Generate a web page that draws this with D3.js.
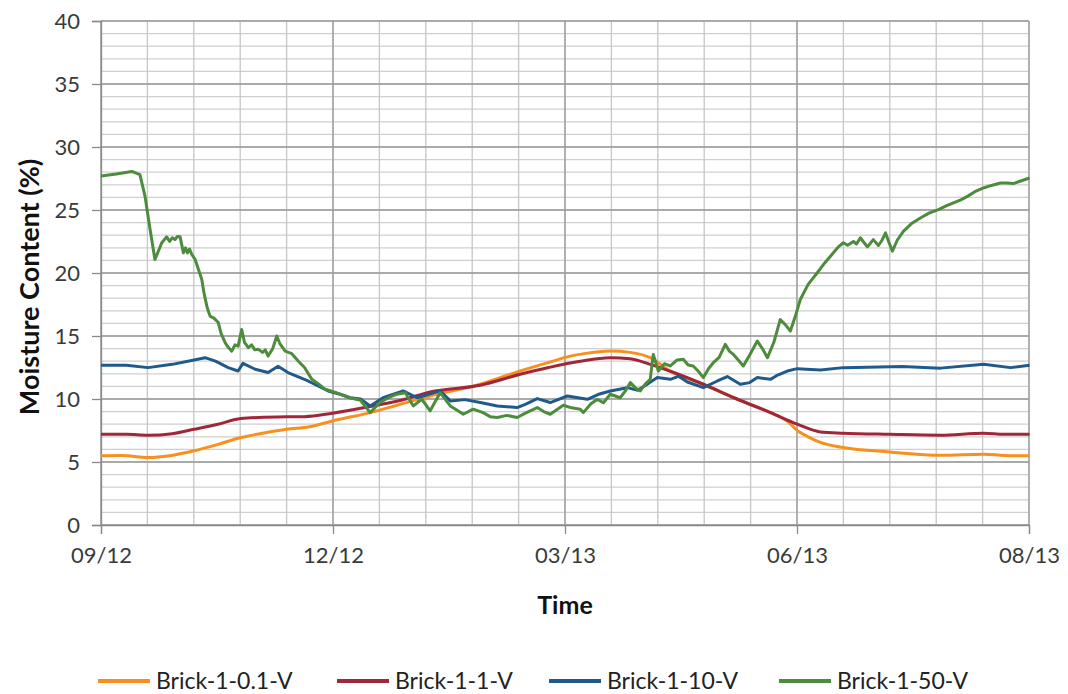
<!DOCTYPE html>
<html>
<head>
<meta charset="utf-8">
<script src="https://cdn.jsdelivr.net/npm/d3@7"></script>
<style>
  body { margin: 0; background: white; }
  text { font-family: Lato, 'Open Sans', sans-serif; fill: #3a3a3a; }
</style>
</head>
<body>
<div id="chart"></div>
<script>
// series names and colours
const seriesNames = ['Brick-1-0.1-V', 'Brick-1-1-V', 'Brick-1-10-V', 'Brick-1-50-V'];
const seriesColors = ['#f7901e', '#a02639', '#1f5a8a', '#4c8c3c'];

// readings as [days since 2012-09-01, moisture %]
const brick01 = [[0,5.5],[8,5.52],[18.5,5.36],[27,5.5],[36.6,5.89],[46,6.4],[55,6.94],[64,7.3],[73,7.6],[82,7.8],
  [91,8.26],[105.8,8.92],[118,9.6],[129.4,10.24],[149,11.17],[164.8,12.22],[176,12.9],[184.5,13.4],[190,13.6],
  [200.2,13.8],[208,13.7],[215.9,13.28],[223.8,12.2],[236.8,11.17],[250.2,9.98],[263.2,8.92],[270,8.2],
  [273.7,7.5],[278,7.0],[282.8,6.55],[291.8,6.15],[310,5.8],[330,5.54],[347,5.62],[355,5.52],[365,5.49]];

const brick1 = [[0,7.2],[10,7.2],[18.5,7.13],[28,7.25],[36.6,7.6],[46,8.0],[55,8.45],[64,8.55],[73,8.6],[80,8.6],
  [91,8.87],[105.8,9.4],[118,9.9],[129.4,10.56],[149,11.09],[164.8,11.96],[176,12.5],[188.4,13.0],[200.2,13.28],
  [208,13.2],[215.9,12.75],[223.8,12.2],[236.8,11.17],[250.2,9.98],[263.2,8.92],[273.7,8.0],[282.8,7.39],
  [291.8,7.29],[310,7.2],[330,7.13],[347,7.29],[355,7.2],[365,7.2]];

const brick10 = [[0,12.67],[10,12.68],[18.5,12.49],[28,12.75],[36.6,13.1],[40.9,13.28],[45,13.0],[50,12.49],
  [53.9,12.22],[55.8,12.83],[60.6,12.36],[65.7,12.1],[69.6,12.6],[73.5,12.1],[81.4,11.43],[89.3,10.64],[94,10.38],
  [97.9,10.1],[102,10.0],[105.8,9.45],[110.9,10.1],[118.8,10.64],[124.3,10.1],[133.3,10.64],[137.3,9.85],
  [143,9.95],[149.1,9.72],[155.8,9.45],[163.6,9.32],[167,9.6],[171.5,10.03],[176.6,9.72],[183.3,10.24],
  [191.2,9.98],[196,10.4],[200.2,10.64],[206.9,10.9],[211,10.7],[214.7,11.17],[218.7,11.7],[223.8,11.56],
  [227,11.8],[230.5,11.35],[236.8,10.9],[242.3,11.43],[246.2,11.78],[251.3,11.17],[255,11.3],[258,11.7],
  [263.2,11.56],[266,11.9],[269.8,12.22],[273.7,12.41],[282.8,12.3],[291.8,12.49],[315,12.57],
  [330,12.45],[347,12.75],[357.5,12.49],[365,12.67]];

const brick50 = [[0,27.7],[6,27.85],[12.1,28.06],[15.3,27.8],[17.3,26.1],[19.3,23.45],[21.2,21.07],[23.9,22.4],
  [25.8,22.87],[27,22.5],[28,22.8],[29.1,22.65],[30,22.9],[31.1,22.87],[32.4,21.6],[33.2,22.0],[34,21.6],[34.8,21.9],
  [35.7,21.47],[37,21.07],[39.6,19.5],[40.5,18.4],[41.6,17.37],[42.3,16.9],[42.9,16.58],[44.5,16.4],[46.1,16.07],
  [47.2,15.2],[48.8,14.47],[50,14.1],[51.4,13.8],[52.7,14.3],[53.9,14.2],[55.3,15.52],[56.4,14.5],[57.9,14.07],
  [59.2,14.3],[60.5,13.9],[61.9,13.94],[63.5,13.7],[64.6,13.9],[65.7,13.41],[67.5,14.0],[69.1,15.0],[70.3,14.4],
  [72.4,13.8],[75,13.6],[77.6,13.0],[80,12.5],[82.9,11.56],[85.5,11.2],[88.1,10.77],[91,10.6],[94,10.38],
  [97.9,10.1],[102,9.9],[105.8,8.92],[109.7,9.72],[113,10.1],[116.3,10.38],[119.6,10.5],
  [122.8,9.45],[126.1,9.98],[129.4,9.06],[133.3,10.5],[137.3,9.45],[140,9.1],[142.4,8.79],[146.3,9.19],[150.2,8.92],
  [153,8.6],[155.8,8.53],[159.5,8.7],[163.6,8.53],[167,8.9],[171.5,9.32],[174,9.0],[176.6,8.79],[181.7,9.5],
  [185,9.3],[188.4,9.19],[189.6,8.92],[192.5,9.6],[195.1,9.98],[197.5,9.7],[200.2,10.38],[204.1,10.1],[206,10.6],
  [208.1,11.3],[210,10.9],[212,10.64],[214,11.2],[215.9,11.56],[217.1,13.54],[219.1,12.22],[221.5,12.8],[223.8,12.62],
  [226.5,13.1],[228.9,13.15],[230.8,12.7],[232.8,12.62],[234.8,12.2],[236.8,11.7],[238.8,12.4],[240.7,12.88],
  [243,13.3],[245.4,14.34],[247,13.8],[248.6,13.54],[250.5,13.1],[252.5,12.62],[255,13.5],[258,14.6],
  [260,14.0],[262,13.28],[264.5,14.5],[267,16.3],[269,15.9],[271,15.4],[273,16.6],[274.9,17.9],[278,19.1],[281.5,20.0],
  [284.5,20.8],[287.9,21.6],[290,22.1],[291.8,22.4],[293.5,22.2],[295.8,22.5],[297,22.3],
  [298.5,22.8],[300,22.4],[301.3,22.07],[303.6,22.65],[305.6,22.18],[307,22.6],[308.4,23.18],[309.8,22.4],[311.1,21.73],
  [313,22.6],[315.4,23.31],[318.5,23.9],[322.1,24.37],[325.5,24.75],[329.2,25.03],[332,25.3],[335.1,25.56],
  [338,25.8],[340.6,26.08],[343.5,26.45],[346.9,26.75],[350,26.95],[353.6,27.14],[356,27.15],[358.7,27.1],
  [361.5,27.3],[365,27.54]];

const allSeries = [brick01, brick1, brick10, brick50];

// axis settings
const yMajorTicks = [0, 5, 10, 15, 20, 25, 30, 35, 40];
const axisDays = 364.8;   // Excel axis runs 09/12 -> 08/13 in 4 major steps

let width = 1068,
    height = 694;

let margin = { top: 21, bottom: 169, left: 101, right: 39 };

const dayMs = 864e5;
const start = Date.UTC(2012, 8, 1);
const toDate = d => new Date(start + d * dayMs);

let svg = d3.select('#chart')
            .append('svg')
            .attr('width', width)
            .attr('height', height)
            .style('background', 'white');

let xScale = d3.scaleUtc()
            .domain([toDate(0), toDate(axisDays)])
            .range([margin.left, width - margin.right]);

let yScale = d3.scaleLinear()
            .domain([0, 40])
            .range([height - margin.bottom, margin.top]);

const majorX = d3.range(0, 5).map(i => toDate(i * axisDays / 4));
const minorX = d3.range(0, 21).map(i => toDate(i * axisDays / 20));
const minorY = d3.range(0, 41);

// minor grid
let grid = svg.append('g');
grid.selectAll('line.hminor')
    .data(minorY)
    .enter()
    .append('line')
    .attr('x1', margin.left)
    .attr('x2', width - margin.right)
    .attr('y1', d => yScale(d))
    .attr('y2', d => yScale(d))
    .attr('stroke', '#cfcfcf')
    .attr('stroke-width', 1.3);

grid.selectAll('line.vminor')
    .data(minorX)
    .enter()
    .append('line')
    .attr('x1', d => xScale(d))
    .attr('x2', d => xScale(d))
    .attr('y1', margin.top)
    .attr('y2', yScale(0))
    .attr('stroke', '#c6c6c6')
    .attr('stroke-width', 1.3);

// major grid
grid.selectAll('line.hmajor')
    .data(yMajorTicks)
    .enter()
    .append('line')
    .attr('x1', margin.left)
    .attr('x2', width - margin.right)
    .attr('y1', d => yScale(d))
    .attr('y2', d => yScale(d))
    .attr('stroke', '#9a9a9a')
    .attr('stroke-width', 1.3);

grid.selectAll('line.vmajor')
    .data(majorX)
    .enter()
    .append('line')
    .attr('x1', d => xScale(d))
    .attr('x2', d => xScale(d))
    .attr('y1', margin.top)
    .attr('y2', yScale(0))
    .attr('stroke', '#9a9a9a')
    .attr('stroke-width', 1.3);

// axes with outside ticks
let xAxis = svg.append('g')
            .attr('transform', `translate(0, ${yScale(0)})`)
            .call(d3.axisBottom(xScale).tickValues(majorX).tickSize(9).tickPadding(13)
                  .tickFormat(d3.utcFormat('%m/%y')));

let yAxis = svg.append('g')
            .attr('transform', `translate(${margin.left}, 0)`)
            .call(d3.axisLeft(yScale).tickValues(yMajorTicks).tickSize(9).tickPadding(12));

[xAxis, yAxis].forEach(a => {
    a.select('.domain').attr('stroke', '#8a8a8a').attr('stroke-width', 1.3);
    a.selectAll('.tick line').attr('stroke', '#8a8a8a').attr('stroke-width', 1.3);
    a.selectAll('.tick text').style('font-size', '22px').style('fill', '#3a3a3a');
});

// lines
let line = d3.line()
            .x(d => xScale(toDate(d[0])))
            .y(d => yScale(d[1]));

svg.selectAll('path.series')
    .data(allSeries)
    .enter()
    .append('path')
    .attr('class', 'series')
    .attr('d', (d, i) => i < 2 ? line.curve(d3.curveMonotoneX)(d) : line.curve(d3.curveLinear)(d))
    .attr('fill', 'none')
    .attr('stroke', (d, i) => seriesColors[i])
    .attr('stroke-width', 3)
    .attr('stroke-linejoin', 'round');

// axis titles
svg.append('text')
    .attr('x', xScale(toDate(axisDays / 2)))
    .attr('y', 614)
    .text('Time')
    .style('text-anchor', 'middle')
    .style('font-weight', 'bold')
    .style('font-size', '25px')
    .style('fill', '#111');

svg.append('text')
    .attr('transform', `translate(39, 287) rotate(-90)`)
    .text('Moisture Content (%)')
    .style('text-anchor', 'middle')
    .style('font-weight', 'bold')
    .style('font-size', '27px')
    .style('fill', '#111');

// legend
const legendX = [98, 337, 549, 779];
let legendItem = svg.selectAll('.legend-item')
    .data(seriesNames)
    .enter()
    .append('g')
    .attr('class', 'legend-item')
    .attr('transform', (d, i) => `translate(${legendX[i]}, 681)`);

legendItem.append('line')
    .attr('x1', 0)
    .attr('x2', 52)
    .attr('stroke', (d, i) => seriesColors[i])
    .attr('stroke-width', 4);

legendItem.append('text')
    .attr('x', 58)
    .attr('y', 8)
    .text(d => d)
    .style('font-size', '23px')
    .style('fill', '#222');
</script>
</body>
</html>
